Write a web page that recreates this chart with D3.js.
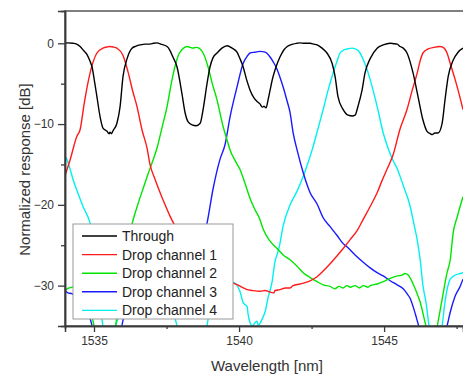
<!DOCTYPE html>
<html>
<head>
<meta charset="utf-8">
<script src="https://cdn.jsdelivr.net/npm/d3@7"></script>
<style>
html,body{margin:0;padding:0;background:#fff;}
svg{display:block;}
text{font-family:"Liberation Sans",Arial,sans-serif;}
</style>
</head>
<body>
<svg id="chart" width="463" height="374"></svg>
<script>
// ---- data: [wavelength nm, normalized response dB] ----
const seriesNames = ["Through","Drop channel 1","Drop channel 2","Drop channel 3","Drop channel 4"];
const seriesColors = ["#000000","#ff1a1a","#00e600","#1a1aff","#00f0f0"];

const throughData = [
[1534.00,0.0],[1534.10,0.05],[1534.28,0.0],[1534.40,-0.1],[1534.52,-0.4],[1534.64,-0.9],[1534.76,-1.4],[1534.86,-2.2],[1534.93,-2.9],[1535.03,-5.0],[1535.10,-6.6],[1535.21,-9.1],
[1535.31,-10.5],[1535.45,-10.9],[1535.52,-11.2],[1535.55,-11.0],[1535.60,-11.2],[1535.66,-10.8],[1535.79,-9.9],[1535.90,-7.8],[1536.00,-4.1],[1536.14,-1.9],
[1536.31,-0.6],[1536.45,-0.35],[1536.59,-0.2],[1536.76,-0.1],[1536.93,-0.1],[1537.05,0.0],[1537.17,0.05],[1537.30,-0.1],[1537.52,-0.4],[1537.62,-0.9],[1537.72,-1.7],
[1537.86,-2.9],[1538.03,-6.2],[1538.14,-8.6],[1538.24,-9.7],[1538.38,-10.1],[1538.52,-10.2],[1538.66,-9.9],[1538.76,-8.2],[1538.90,-4.9],[1539.00,-2.9],
[1539.10,-1.8],[1539.24,-1.2],[1539.41,-0.6],[1539.59,-0.3],[1539.76,-0.6],[1539.93,-1.1],[1540.02,-1.8],[1540.14,-2.9],[1540.26,-4.5],[1540.38,-5.8],
[1540.52,-6.8],[1540.62,-7.2],[1540.72,-7.5],[1540.80,-7.9],[1540.86,-7.8],[1540.93,-8.0],[1541.00,-7.0],[1541.07,-5.8],[1541.16,-4.3],[1541.24,-3.3],
[1541.41,-1.7],[1541.55,-0.8],[1541.66,-0.4],[1541.86,-0.1],[1542.00,0.0],[1542.10,0.05],[1542.25,0.0],[1542.45,0.0],[1542.58,-0.1],[1542.69,-0.2],[1542.86,-0.6],
[1543.03,-1.2],[1543.21,-2.5],[1543.31,-4.1],[1543.41,-6.6],[1543.59,-8.2],[1543.76,-8.9],[1543.90,-9.0],[1544.00,-8.9],[1544.10,-7.8],[1544.24,-5.8],
[1544.34,-3.7],[1544.52,-1.9],[1544.76,-0.6],[1544.97,-0.2],[1545.21,0.0],[1545.33,-0.05],[1545.45,-0.1],[1545.55,-0.4],[1545.66,-0.6],[1545.79,-1.2],[1546.00,-3.7],
[1546.17,-6.6],[1546.34,-9.5],[1546.48,-10.9],[1546.60,-11.2],[1546.66,-11.3],[1546.75,-11.1],[1546.86,-11.1],[1547.00,-9.9],[1547.10,-7.0],[1547.21,-4.1],
[1547.38,-2.1],[1547.55,-1.1],[1547.72,-0.6]
];

const drop1Data = [
[1534.00,-16.4],[1534.17,-14.5],[1534.41,-11.5],[1534.52,-10.7],[1534.66,-7.5],[1534.79,-4.9],[1534.97,-2.3],[1535.10,-1.2],[1535.31,-0.6],
[1535.45,-0.45],[1535.55,-0.4],[1535.66,-0.45],[1535.79,-0.6],[1536.00,-1.5],[1536.17,-3.5],[1536.34,-6.0],[1536.48,-7.8],[1536.66,-10.8],[1536.83,-13.0],
[1536.93,-15.0],[1537.10,-16.8],[1537.28,-18.5],[1537.45,-20.0],[1537.62,-21.4],[1537.79,-22.6],[1538.31,-25.5],[1539.00,-28.0],[1539.79,-29.7],
[1539.95,-29.9],[1540.10,-30.2],[1540.28,-30.5],[1540.45,-30.6],[1540.72,-30.7],[1540.90,-30.6],[1541.07,-30.8],[1541.20,-30.9],[1541.24,-30.6],
[1541.41,-30.5],[1541.60,-30.3],[1541.76,-30.3],[1541.86,-30.0],[1542.10,-29.8],[1542.30,-29.6],[1542.45,-29.4],[1542.69,-28.9],[1542.90,-28.2],
[1543.14,-27.3],[1543.38,-26.3],[1543.59,-25.4],[1543.83,-24.3],[1544.07,-23.2],[1544.28,-21.8],[1544.52,-20.2],[1544.76,-18.5],[1544.93,-17.0],
[1545.10,-15.6],[1545.31,-13.8],[1545.55,-10.6],[1545.79,-8.2],[1545.97,-5.8],[1546.14,-3.7],[1546.24,-2.2],[1546.34,-1.2],[1546.52,-0.7],
[1546.72,-0.5],[1546.93,-0.4],[1547.07,-0.6],[1547.17,-1.2],[1547.28,-2.5],[1547.45,-4.5],[1547.52,-5.4],[1547.72,-8.2]
];

const drop2Data = [
[1534.00,-30.6],[1534.07,-30.4],[1534.24,-30.2],[1534.41,-30.0],[1534.69,-31.0],[1534.86,-32.5],[1535.03,-35.5],[1535.21,-37],[1535.55,-37],
[1535.69,-36],[1535.76,-34.6],[1535.90,-31],[1536.03,-28],[1536.17,-25],[1536.31,-22.4],[1536.48,-20.3],[1536.69,-18.0],[1536.86,-16.2],
[1537.03,-14.5],[1537.17,-13.0],[1537.34,-10.5],[1537.52,-7.8],[1537.69,-4.5],[1537.79,-2.9],[1537.93,-1.3],[1538.03,-0.8],[1538.21,-0.4],
[1538.31,-0.5],[1538.41,-0.6],[1538.52,-0.5],[1538.62,-0.6],[1538.76,-1.2],[1538.93,-2.9],[1539.07,-4.9],[1539.24,-7.0],[1539.45,-10.3],
[1539.59,-12.0],[1539.69,-13.2],[1539.86,-14.5],[1540.03,-15.6],[1540.21,-17.4],[1540.38,-19.2],[1540.55,-20.6],[1540.72,-21.8],[1540.83,-23.0],
[1541.07,-24.5],[1541.31,-25.4],[1541.52,-26.2],[1541.76,-26.8],[1542.00,-27.6],[1542.21,-28.4],[1542.45,-29.0],[1542.69,-29.5],[1542.90,-29.9],
[1543.14,-30.1],[1543.30,-30.4],[1543.45,-30.1],[1543.59,-30.3],[1543.72,-30.0],[1543.83,-30.2],[1544.00,-30.0],[1544.15,-30.3],[1544.28,-30.0],
[1544.45,-30.2],[1544.52,-30.0],[1544.76,-29.8],[1544.97,-29.5],[1545.21,-29.1],[1545.45,-28.8],[1545.62,-28.7],[1545.72,-28.5],[1545.83,-28.7],
[1546.00,-29.8],[1546.14,-31.0],[1546.24,-32.0],[1546.41,-34.5],[1546.48,-35.5],[1546.66,-37],[1546.79,-36],[1546.86,-34.5],[1547.00,-31.7],
[1547.17,-28.4],[1547.28,-26.8],[1547.38,-23.5],[1547.52,-21.5],[1547.62,-20.2],[1547.72,-19.0]
];

const drop3Data = [
[1534.00,-30.6],[1534.10,-30.9],[1534.24,-31.0],[1534.38,-31.5],[1534.52,-32.0],[1534.69,-33.0],[1534.86,-34.0],[1534.97,-35.5],[1535.10,-37],
[1535.72,-37],[1535.90,-36],[1536.00,-34.3],[1536.14,-33.0],[1536.93,-32],[1537.79,-31],[1538.31,-29],[1538.66,-25.5],[1538.90,-22.2],
[1539.10,-18.1],[1539.34,-14.4],[1539.52,-12.5],[1539.69,-9.1],[1539.93,-5.4],[1540.14,-2.5],[1540.28,-1.6],[1540.38,-1.2],[1540.55,-1.1],
[1540.72,-1.0],[1540.90,-1.1],[1541.07,-1.7],[1541.21,-2.5],[1541.31,-3.2],[1541.41,-4.2],[1541.52,-5.4],[1541.66,-7.2],[1541.76,-8.6],
[1541.86,-11],[1542.00,-13.2],[1542.21,-16.0],[1542.45,-18.5],[1542.69,-19.9],[1542.90,-21.6],[1543.14,-22.7],[1543.38,-23.8],[1543.59,-24.8],
[1543.72,-25.2],[1544.00,-26.2],[1544.28,-27.1],[1544.52,-27.8],[1544.76,-28.4],[1544.97,-28.8],[1545.21,-29.4],[1545.45,-29.9],[1545.66,-30.4],
[1545.79,-31.0],[1545.90,-31.6],[1546.00,-32.6],[1546.10,-33.8],[1546.17,-34.7],[1546.28,-36],[1546.59,-37],[1546.93,-37],[1547.10,-36],
[1547.17,-35],[1547.28,-33.3],[1547.45,-31.3],[1547.62,-30.1],[1547.72,-29.2]
];

const drop4Data = [
[1534.00,-14.0],[1534.07,-14.4],[1534.17,-15.5],[1534.28,-16.9],[1534.45,-18.6],[1534.62,-20.2],[1534.86,-22.2],[1535.03,-25],[1535.21,-32.5],
[1535.28,-34.2],[1535.34,-36],[1535.55,-37],[1535.83,-34],[1536.59,-31],[1537.45,-32],[1537.79,-34],[1537.90,-35.5],[1538.03,-37],[1538.66,-37],
[1538.86,-35.5],[1538.97,-33.5],[1539.17,-31],[1539.55,-30],[1539.79,-29.6],[1540.03,-30.7],[1540.14,-32.1],[1540.28,-32.6],[1540.31,-33.5],
[1540.38,-34.6],[1540.45,-35.0],[1540.55,-34.6],[1540.62,-34.4],[1540.66,-34.9],[1540.79,-34.2],[1540.90,-33.2],[1541.00,-31.5],[1541.14,-29.5],
[1541.24,-27.0],[1541.31,-26.2],[1541.38,-25.3],[1541.52,-22.6],[1541.76,-20.0],[1542.00,-18.3],[1542.21,-16.5],[1542.34,-15.2],[1542.52,-13.2],
[1542.72,-10.6],[1542.90,-8.2],[1543.07,-5.8],[1543.24,-3.7],[1543.38,-2.2],[1543.48,-1.2],[1543.62,-0.8],[1543.72,-0.7],[1543.90,-0.6],
[1544.07,-0.8],[1544.17,-1.2],[1544.28,-2.0],[1544.41,-3.2],[1544.52,-4.5],[1544.76,-7.8],[1544.97,-11.1],[1545.10,-12.6],[1545.28,-14.3],
[1545.45,-15.5],[1545.66,-17.6],[1545.90,-20.2],[1546.03,-22.4],[1546.14,-24.3],[1546.24,-26.7],[1546.34,-30.0],[1546.45,-32.2],[1546.55,-35.0],
[1546.66,-37],[1546.86,-37],[1547.00,-35.0],[1547.10,-32.0],[1547.28,-29.2],[1547.45,-28.7],[1547.62,-28.5],[1547.72,-28.4]
];

const xMajorTicks = [1535,1540,1545];
const xMinorTicks = [1537.5,1542.5,1547.5];
const yMajorTicks = [0,-10,-20,-30];
const yMinorTicks = [-5,-15,-25];
const xDomain = [1534,1547.72];
const yDomain = [-35,4];
const xTitle = "Wavelength [nm]";
const yTitle = "Normalized response [dB]";

// ---- layout ----
const svg = d3.select("#chart");
const L = 65, T = 11, R = 463, B = 326;
const x = d3.scaleLinear().domain(xDomain).range([L, R]);
const y = d3.scaleLinear().domain(yDomain).range([B, T]);

svg.append("defs").append("clipPath").attr("id","clip")
  .append("rect").attr("x",L).attr("y",T).attr("width",R-L+5).attr("height",B-T);

const line = d3.line().x(d=>x(d[0])).y(d=>y(d[1])).curve(d3.curveMonotoneX);
const allSeries = [throughData, drop1Data, drop2Data, drop3Data, drop4Data];
const drawOrder = [4,3,2,1,0];
const g = svg.append("g").attr("clip-path","url(#clip)");
drawOrder.forEach(i=>{
  g.append("path").datum(allSeries[i])
    .attr("d", line).attr("fill","none")
    .attr("stroke", seriesColors[i]).attr("stroke-width",1.4)
    .attr("stroke-linejoin","round");
});

// frame
const axCol = "#3a3a3a";
svg.append("rect").attr("x",L).attr("y",T).attr("width",R-L+10).attr("height",B-T)
  .attr("fill","none").attr("stroke","#555").attr("stroke-width",1.5);

// axes
const xAxis = d3.axisBottom(x).tickValues(xMajorTicks).tickSize(6).tickPadding(4).tickFormat(d3.format("d"));
const xAxisMinor = d3.axisBottom(x).tickValues(xMinorTicks).tickSize(3).tickFormat("");
const yAxis = d3.axisLeft(y).tickValues(yMajorTicks).tickSize(7).tickPadding(4).tickFormat(d3.format("d"));
const yAxisMinor = d3.axisLeft(y).tickValues(yMinorTicks).tickSize(4).tickFormat("");

function style(sel){
  sel.select(".domain").attr("stroke",axCol).attr("stroke-width",1.5);
  sel.selectAll(".tick line").attr("stroke",axCol).attr("stroke-width",1.3);
  sel.selectAll(".tick text").attr("fill","#333").style("font-size","12px")
     .style("font-family","'Liberation Sans',Arial,sans-serif");
}
svg.append("g").attr("transform",`translate(0,${B})`).call(xAxisMinor).call(style);
svg.append("g").attr("transform",`translate(0,${B})`).call(xAxis).call(style);
svg.append("g").attr("transform",`translate(${L},0)`).call(yAxisMinor).call(style);
svg.append("g").attr("transform",`translate(${L},0)`).call(yAxis).call(style);

// titles
svg.append("text").attr("x",(L+R)/2+3).attr("y",370.5).attr("text-anchor","middle")
  .attr("fill","#333").style("font-size","15px").text(xTitle);
svg.append("text").attr("transform",`translate(30,${(T+B)/2+1}) rotate(-90)`)
  .attr("text-anchor","middle").attr("fill","#333").style("font-size","15px").text(yTitle);

// legend
const lg = svg.append("g");
lg.append("rect").attr("x",73).attr("y",224).attr("width",160).attr("height",95)
  .attr("fill","#fff").attr("stroke","#999").attr("stroke-width",1);
seriesNames.forEach((n,i)=>{
  const yy = 236 + i*18.6;
  lg.append("line").attr("x1",82).attr("x2",117).attr("y1",yy).attr("y2",yy)
    .attr("stroke",seriesColors[i]).attr("stroke-width",1.4);
  lg.append("text").attr("x",122).attr("y",yy+5).attr("fill","#222")
    .style("font-size","14px").text(n);
});
</script>
</body>
</html>
